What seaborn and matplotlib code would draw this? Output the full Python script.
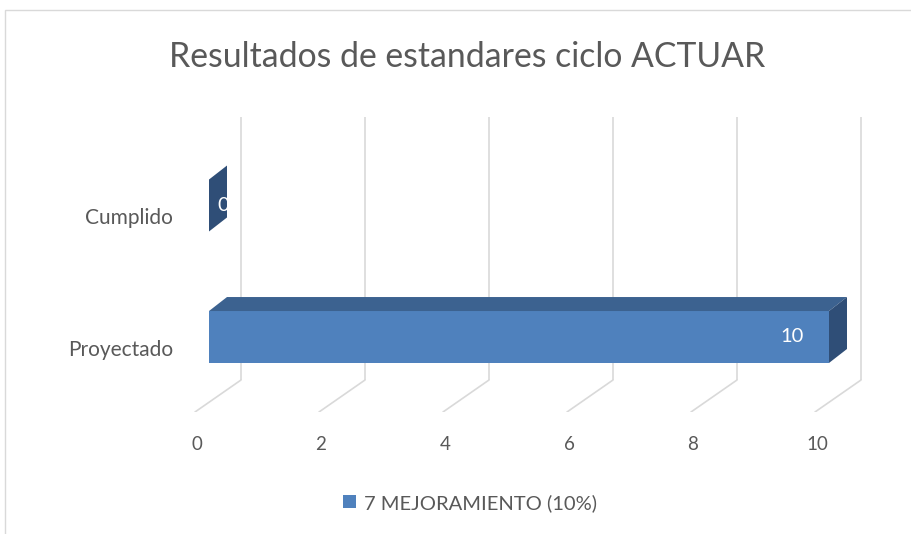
import numpy as np
import pandas as pd
import matplotlib
matplotlib.use("Agg")
import matplotlib.pyplot as plt
import matplotlib.transforms as mtransforms
from matplotlib.patches import Polygon, Rectangle
import seaborn as sns

# =========================================================
# DATA
# =========================================================

categorias = ["Cumplido", "Proyectado"]
valores = [0, 10]
serie = "7 MEJORAMIENTO (10%)"
x_ticks = [0, 2, 4, 6, 8, 10]
titulo = "Resultados de estandares ciclo ACTUAR"

# =========================================================
# STYLE
# =========================================================

FRONT = "#4F81BD"
TOP = "#3C6290"
SIDE = "#2F4E77"
GRID = "#D9D9D9"
TEXT = "#595959"
DPI = 100

sns.set_theme(style="white")
plt.rcParams["font.family"] = ["Lato", "DejaVu Sans"]

fig = plt.figure(figsize=(9.12, 5.34), dpi=DPI)
W, H = 912, 534

# axes box in pixels (left, top, right, bottom)
L, T, R, B = 185, 117, 890, 412
ax = fig.add_axes([L / W, (H - B) / H, (R - L) / W, (B - T) / H])

df = pd.DataFrame({"categoria": categorias, "valor": valores, "serie": serie})
sns.barplot(data=df, x="valor", y="categoria", hue="serie", orient="h",
            palette=[FRONT], saturation=1, width=0.395, ax=ax, zorder=3,
            linewidth=0)

# front plane: 0 -> px 209, 62 px per unit; categories 131.5 px apart
x0_px, px_unit = 209, 62.0
ax.set_xlim((L - x0_px) / px_unit, (R - x0_px) / px_unit)
y0_px, px_cat = 205.5, 131.5
ax.set_ylim((B - y0_px) / px_cat, (T - y0_px) / px_cat)

for s in ax.spines.values():
    s.set_visible(False)
ax.set_xlabel("")
ax.set_ylabel("")


def dx(px):
    return px / px_unit


def dy(px):
    # pixels upward -> data units (y axis inverted)
    return -px / px_cat


# back wall gridlines + floor lines
xt = ax.get_xaxis_transform()
wall_bottom = (B - 380) / (B - T)
for t in x_ticks:
    ax.plot([t + dx(32), t + dx(32)], [wall_bottom, 1], color=GRID, lw=1.2,
            transform=xt, zorder=1, solid_capstyle="butt")
    ax.plot([t + dx(32), t + dx(-14)], [wall_bottom, 0], color=GRID, lw=1.2,
            transform=xt, zorder=1)

# 3D faces of the bars
DX, DY = 18, 14
for p, v in zip(ax.patches, valores):
    x, y, w, h = p.get_x(), p.get_y(), p.get_width(), p.get_height()
    top = Polygon([(x, y), (x + w, y), (x + w + dx(DX), y + dy(DY)),
                   (x + dx(DX), y + dy(DY))], closed=True, fc=TOP, ec="none", zorder=4)
    side = Polygon([(x + w, y), (x + w + dx(DX), y + dy(DY)),
                    (x + w + dx(DX), y + h + dy(DY)), (x + w, y + h)],
                   closed=True, fc=SIDE, ec="none", zorder=4)
    ax.add_patch(top)
    ax.add_patch(side)
    cy = y + h / 2
    if v > 0:
        ax.text(x + w - dx(37), cy, str(v), color="white", fontsize=14.5,
                ha="center", va="center", zorder=5)
    else:
        ax.text(x + w + dx(14), cy, str(v), color="white", fontsize=14.5,
                ha="center", va="center", zorder=5)

# ticks
ax.set_xticks(x_ticks)
ax.set_xticklabels([str(t) for t in x_ticks])
ax.tick_params(axis="x", length=0, pad=17, labelsize=13.5, labelcolor=TEXT)
ax.tick_params(axis="y", length=0, pad=8.5, labelsize=15, labelcolor=TEXT)
shift_x = mtransforms.ScaledTranslation(-12 / DPI, 0, fig.dpi_scale_trans)
for lbl in ax.get_xticklabels():
    lbl.set_transform(lbl.get_transform() + shift_x)
shift_y = mtransforms.ScaledTranslation(0, -11 / DPI, fig.dpi_scale_trans)
for lbl in ax.get_yticklabels():
    lbl.set_transform(lbl.get_transform() + shift_y)

# legend
leg = ax.legend(loc="center", bbox_to_anchor=(470 / W, (H - 503) / H),
                bbox_transform=fig.transFigure, frameon=False, fontsize=14.5,
                handlelength=0.6, handleheight=0.6, handletextpad=0.4)
for txt in leg.get_texts():
    txt.set_color(TEXT)

# title
fig.text(467 / W, (H - 57) / H, titulo, ha="center", va="center",
         fontsize=24.3, color=TEXT)

# chart border
fig.add_artist(Rectangle((5 / W, -0.1), 2, (H - 10) / H + 0.1,
                         transform=fig.transFigure, fill=False, ec=GRID, lw=1))

plt.savefig("out.png", dpi=DPI)
